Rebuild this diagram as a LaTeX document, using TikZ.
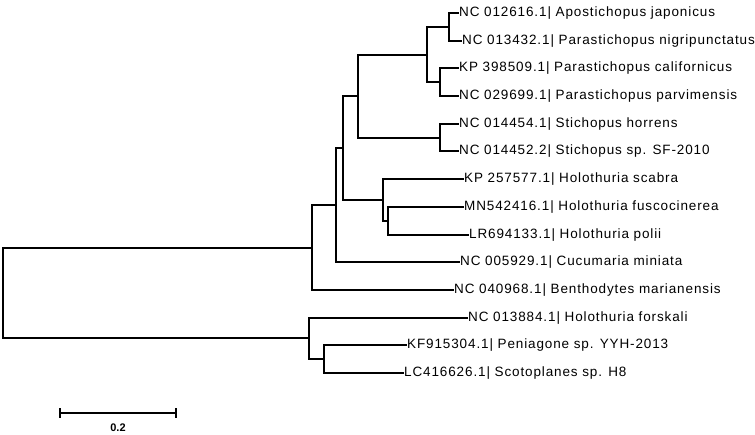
\documentclass[tikz,border=0pt]{standalone}
\usepackage{fontspec}
\setmainfont{Liberation Sans}
\newfontfamily\taxonfont[LetterSpace=6.5]{Liberation Sans}
\begin{document}
\begin{tikzpicture}[x=1pt,y=-1pt,
  branch/.style={line width=2pt,line cap=rect},
  taxon/.style={anchor=west,inner xsep=1.2pt,inner ysep=0pt,outer sep=0pt,
    text height=9.5pt,text depth=2.5pt,font=\taxonfont\fontsize{13.5}{13.5}\selectfont}]
\useasboundingbox (0,0) rectangle (755,435);
% taxa
\node[taxon] (t1)  at (458,13)  {NC 012616.1| Apostichopus japonicus};
\node[taxon] (t2)  at (461,41)  {NC 013432.1| Parastichopus nigripunctatus};
\node[taxon] (t3)  at (458,68)  {KP 398509.1| Parastichopus californicus};
\node[taxon] (t4)  at (458,96)  {NC 029699.1| Parastichopus parvimensis};
\node[taxon] (t5)  at (458,124) {NC 014454.1| Stichopus horrens};
\node[taxon] (t6)  at (458,151) {NC 014452.2| Stichopus sp. SF-2010};
\node[taxon] (t7)  at (463,179) {KP 257577.1| Holothuria scabra};
\node[taxon] (t8)  at (463,207) {MN542416.1| Holothuria fuscocinerea};
\node[taxon] (t9)  at (468,235) {LR694133.1| Holothuria polii};
\node[taxon] (t10) at (459,262) {NC 005929.1| Cucumaria miniata};
\node[taxon] (t11) at (453,290) {NC 040968.1| Benthodytes marianensis};
\node[taxon] (t12) at (467,318) {NC 013884.1| Holothuria forskali};
\node[taxon] (t13) at (406,345) {KF915304.1| Peniagone sp. YYH-2013};
\node[taxon] (t14) at (403,373) {LC416626.1| Scotoplanes sp. H8};
% internal nodes
\coordinate (apo)   at (449,27);
\coordinate (par)   at (440,82);
\coordinate (ap)    at (427,55);
\coordinate (sti)   at (440,138);
\coordinate (stich) at (358,96);
\coordinate (hfp)   at (388,221);
\coordinate (hol)   at (383,200);
\coordinate (asp)   at (343,148);
\coordinate (cuc)   at (336,205);
\coordinate (ben)   at (312,248);
\coordinate (psc)   at (324,359);
\coordinate (deep)  at (309,338);
\coordinate (root)  at (3,293);
% branches
\draw[branch] (apo) |- (t1.west) (apo) |- (t2.west);
\draw[branch] (par) |- (t3.west) (par) |- (t4.west);
\draw[branch] (ap) |- (apo) (ap) |- (par);
\draw[branch] (sti) |- (t5.west) (sti) |- (t6.west);
\draw[branch] (stich) |- (ap) (stich) |- (sti);
\draw[branch] (hfp) |- (t8.west) (hfp) |- (t9.west);
\draw[branch] (hol) |- (t7.west) (hol) |- (hfp);
\draw[branch] (asp) |- (stich) (asp) |- (hol);
\draw[branch] (cuc) |- (asp) (cuc) |- (t10.west);
\draw[branch] (ben) |- (cuc) (ben) |- (t11.west);
\draw[branch] (psc) |- (t13.west) (psc) |- (t14.west);
\draw[branch] (deep) |- (t12.west) (deep) |- (psc);
\draw[branch] (root) |- (ben) (root) |- (deep);
% scale bar
\coordinate (s0) at (60,413);
\coordinate (s1) at (176,413);
\draw[branch] (s0) -- (s1);
\draw[branch] ([yshift=-4pt]s0) -- ([yshift=4pt]s0) ([yshift=-4pt]s1) -- ([yshift=4pt]s1);
\node[font=\bfseries\fontsize{11}{11}\selectfont,inner sep=0pt] (scale) at (118,428) {0.2};
\end{tikzpicture}
\end{document}
